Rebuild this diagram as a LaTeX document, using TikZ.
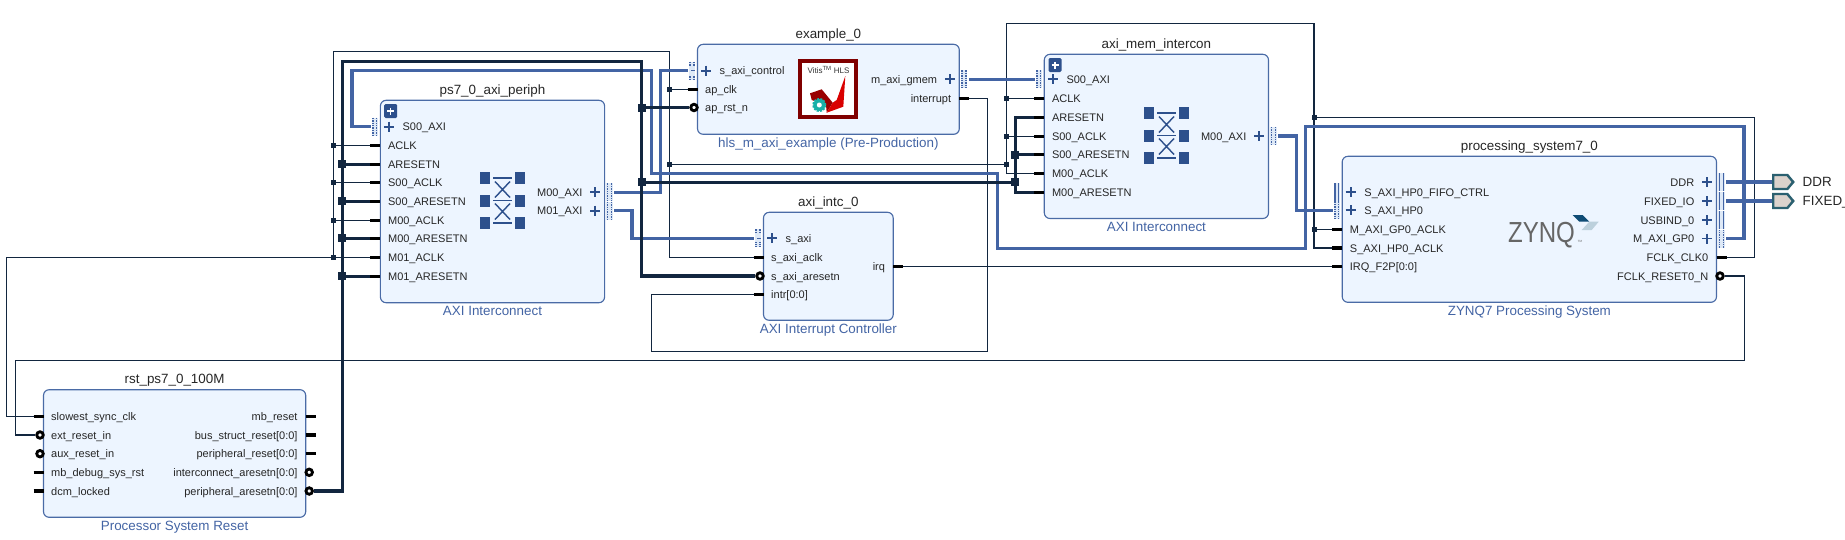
\documentclass[tikz,border=0pt]{standalone}
\usepackage{fontspec}
\setmainfont{Liberation Sans}
\usepackage{xcolor}
\definecolor{Wire}{RGB}{18,38,63}
\definecolor{Bus}{RGB}{67,100,164}
\definecolor{BlockFill}{RGB}{237,245,255}
\definecolor{BlockEdge}{RGB}{74,107,166}
\definecolor{BusBack}{RGB}{222,233,247}
\definecolor{Icon}{RGB}{45,80,140}
\definecolor{Port}{RGB}{43,96,112}
\definecolor{PortFill}{RGB}{219,210,204}
\definecolor{LogoRed}{RGB}{128,0,0}
\definecolor{Teal}{RGB}{25,176,168}
\definecolor{ChevronDark}{RGB}{15,76,117}
\definecolor{ChevronLight}{RGB}{188,208,220}
\usetikzlibrary{positioning, shapes.symbols}
\tikzset{
	block/.style={draw=BlockEdge, fill=BlockFill, line width=0.4mm, rounded corners=2mm, inner sep=0pt},
	blocktitle/.style={font=\fontsize{13.4}{15}\selectfont, text=black!85, inner sep=0pt, text height=9.5pt, text depth=0pt},
	blockname/.style={font=\fontsize{13.4}{15}\selectfont, text=Bus, inner sep=0pt, text height=9.5pt, text depth=0pt},
	pinlabel/.style={font=\fontsize{11}{13}\selectfont, text=black!85, inner sep=0pt, text height=8pt, text depth=0pt},
	pinstub/.style={draw=black, line width=1.2mm},
	ringpin/.style={circle, draw=black, fill=white, line width=1mm, inner sep=0pt, minimum size=6.5pt},
	plusline/.style={draw=Icon, line width=0.6mm},
	busdot/.style={draw=Bus, line width=0.5mm, dash pattern=on 1.4pt off 1pt},
	bussolid/.style={draw=Bus, line width=0.5mm},
	wirethin/.style={draw=Wire, line width=0.4mm},
	wirethick/.style={draw=Wire, line width=1.1mm},
	wirebus/.style={draw=Bus, line width=1.2mm},
	jthin/.style={fill=Wire, inner sep=0pt, minimum size=5pt},
	jthick/.style={fill=Wire, inner sep=0pt, minimum size=8pt},
	extport/.style={signal, signal to=east, draw=Port, fill=PortFill, line width=0.85mm, inner sep=0pt, minimum width=20pt, minimum height=14pt, signal pointer angle=100}
}
\newcommand{\pinin}[4]{
	\coordinate (#1) at (#2-10,#3);
	\draw[pinstub] (#1) -- (#2,#3);
	\node[pinlabel, anchor=west] (#1t) at (#2+7.5,#3) {#4};
}
\newcommand{\pinout}[4]{
	\coordinate (#1) at (#2+10,#3);
	\draw[pinstub] (#2,#3) -- (#1);
	\node[pinlabel, anchor=east] (#1t) at (#2-8,#3) {#4};
}
\newcommand{\ringin}[4]{
	\node[ringpin] (#1) at (#2-3.5,#3) {};
	\node[pinlabel, anchor=west] (#1t) at (#2+7.5,#3) {#4};
}
\newcommand{\ringout}[4]{
	\node[ringpin] (#1) at (#2+3.5,#3) {};
	\node[pinlabel, anchor=east] (#1t) at (#2-8,#3) {#4};
}
\newcommand{\busin}[5]{
	\coordinate (#1) at (#2-9.5,#3);
	\fill[BusBack] (#2-8.5,#3-9) rectangle (#2-2.5,#3+9);
	\draw[#5] (#2-7.3,#3-9) -- (#2-7.3,#3+9);
	\draw[#5] (#2-3.7,#3-9) -- (#2-3.7,#3+9);
	\draw[plusline] (#2+3.5,#3) -- (#2+13.5,#3);
	\draw[plusline] (#2+8.5,#3-5) -- (#2+8.5,#3+5);
	\node[pinlabel, anchor=west] (#1t) at (#2+22,#3) {#4};
}
\newcommand{\busout}[5]{
	\coordinate (#1) at (#2+9.5,#3);
	\fill[BusBack] (#2+1.5,#3-9) rectangle (#2+8,#3+9);
	\draw[#5] (#2+2.7,#3-9) -- (#2+2.7,#3+9);
	\draw[#5] (#2+6.8,#3-9) -- (#2+6.8,#3+9);
	\draw[plusline] (#2-14.5,#3) -- (#2-4.5,#3);
	\draw[plusline] (#2-9.5,#3-5) -- (#2-9.5,#3+5);
	\node[pinlabel, anchor=east] (#1t) at (#2-22,#3) {#4};
}
\newcommand{\busgap}[2]{
	\fill[BusBack] (#1-8.5,#2-4) rectangle (#1-2.5,#2+4);
	\draw[Bus, line width=0.5mm] (#1-6.5,#2) -- (#1-2.5,#2);
}
\newcommand{\crossbar}[3]{
	\foreach \xx in {#1,#2}
		\foreach \yy in {-22.5,0,22.5}
			\fill[Icon] (\xx-5,#3+\yy-6) rectangle (\xx+5,#3+\yy+6);
	\foreach \yy in {-22.5,0,22.5}
		\draw[Icon, line width=0.4mm] (#1+8,#3+\yy) -- (#2-8,#3+\yy);
	\draw[Icon, line width=0.5mm] (#1+10,#3-19) -- (#2-10,#3-3) (#1+10,#3-3) -- (#2-10,#3-19);
	\draw[Icon, line width=0.5mm] (#1+10,#3+3) -- (#2-10,#3+19) (#1+10,#3+19) -- (#2-10,#3+3);
}
\newcommand{\expand}[2]{
	\fill[Icon, rounded corners=0.5mm] (#1-6.5,#2-7) rectangle (#1+6.5,#2+7);
	\draw[white, line width=0.55mm] (#1-3.5,#2) -- (#1+3.5,#2) (#1,#2-3.5) -- (#1,#2+3.5);
}

\begin{document}
\begin{tikzpicture}[x=1pt, y=-1pt]

	\useasboundingbox (0,0) rectangle (1845,539);
	\clip (0,0) rectangle (1845,539);

	% Blocks
	\node[block, minimum width=224.2pt, minimum height=202.4pt] (ps7) at (492.5,201.5) {};
	\node[block, minimum width=261.8pt, minimum height=90pt] (example) at (828.4,89.3) {};
	\node[block, minimum width=224.2pt, minimum height=164.2pt] (mem) at (1156.4,136.4) {};
	\node[block, minimum width=129.7pt, minimum height=108pt] (intc) at (828.35,266.3) {};
	\node[block, minimum width=374.3pt, minimum height=146pt] (zynq) at (1529.35,229.3) {};
	\node[block, minimum width=262.2pt, minimum height=127.6pt] (rst) at (174.6,453.5) {};

	% Titles
	\node[blocktitle, above=5pt of ps7] (ps7title) {ps7\_0\_axi\_periph};
	\node[blocktitle, above=5pt of example] (exampletitle) {example\_0};
	\node[blocktitle, above=5pt of mem] (memtitle) {axi\_mem\_intercon};
	\node[blocktitle, above=5pt of intc] (intctitle) {axi\_intc\_0};
	\node[blocktitle, above=5pt of zynq] (zynqtitle) {processing\_system7\_0};
	\node[blocktitle, above=5pt of rst] (rsttitle) {rst\_ps7\_0\_100M};

	\node[blockname, below=3pt of ps7] (ps7name) {AXI Interconnect};
	\node[blockname, below=3pt of example] (examplename) {hls\_m\_axi\_example (Pre-Production)};
	\node[blockname, below=3pt of mem] (memname) {AXI Interconnect};
	\node[blockname, below=3pt of intc] (intcname) {AXI Interrupt Controller};
	\node[blockname, below=3pt of zynq] (zynqname) {ZYNQ7 Processing System};
	\node[blockname, below=3pt of rst] (rstname) {Processor System Reset};

	% Pins ps7_0_axi_periph
	\expand{390.7}{111}
	\busin{ps7saxi}{380.4}{126.7}{S00\_AXI}{busdot}
	\pinin{ps7aclk}{380.4}{145.3}{ACLK}
	\pinin{ps7arst}{380.4}{164.3}{ARESETN}
	\pinin{ps7sclk}{380.4}{182.3}{S00\_ACLK}
	\pinin{ps7srst}{380.4}{201.3}{S00\_ARESETN}
	\pinin{ps7mclk}{380.4}{220.3}{M00\_ACLK}
	\pinin{ps7mrst}{380.4}{238.3}{M00\_ARESETN}
	\pinin{ps7nclk}{380.4}{257.3}{M01\_ACLK}
	\pinin{ps7nrst}{380.4}{276.3}{M01\_ARESETN}
	\busout{ps7maxi}{604.6}{192.3}{M00\_AXI}{busdot}
	\busout{ps7naxi}{604.6}{210.7}{M01\_AXI}{busdot}
	\crossbar{485}{520}{200.5}

	% Pins example_0
	\busin{exctrl}{697.5}{70.7}{s\_axi\_control}{busdot}
	\busgap{697.5}{70.7}
	\pinin{exclk}{697.5}{89.3}{ap\_clk}
	\ringin{exrst}{697.5}{107.5}{ap\_rst\_n}
	\busout{exgmem}{959.3}{79.3}{m\_axi\_gmem}{busdot}
	\pinout{exint}{959.3}{98.3}{interrupt}

	% Pins axi_mem_intercon
	\expand{1055}{65}
	\busin{memsaxi}{1044.3}{79.3}{S00\_AXI}{busdot}
	\pinin{memaclk}{1044.3}{98.3}{ACLK}
	\pinin{memarst}{1044.3}{117.3}{ARESETN}
	\pinin{memsclk}{1044.3}{136.3}{S00\_ACLK}
	\pinin{memsrst}{1044.3}{154.5}{S00\_ARESETN}
	\pinin{memmclk}{1044.3}{173.3}{M00\_ACLK}
	\pinin{memmrst}{1044.3}{192.3}{M00\_ARESETN}
	\busout{memmaxi}{1268.5}{136}{M00\_AXI}{busdot}
	\crossbar{1149}{1184}{135.5}

	% Pins axi_intc_0
	\busin{intcaxi}{763.5}{238.3}{s\_axi}{busdot}
	\busgap{763.5}{238.3}
	\pinin{intcclk}{763.5}{257.3}{s\_axi\_aclk}
	\ringin{intcrst}{763.5}{276}{s\_axi\_aresetn}
	\pinin{intcintr}{763.5}{294.3}{intr[0:0]}
	\pinout{intcirq}{893.2}{266.3}{irq}

	% Pins processing_system7_0
	\busin{zynqfifo}{1342.2}{192}{S\_AXI\_HP0\_FIFO\_CTRL}{bussolid}
	\busin{zynqhp}{1342.2}{210.3}{S\_AXI\_HP0}{busdot}
	\pinin{zynqgpclk}{1342.2}{229.3}{M\_AXI\_GP0\_ACLK}
	\pinin{zynqhpclk}{1342.2}{248}{S\_AXI\_HP0\_ACLK}
	\pinin{zynqirq}{1342.2}{266.3}{IRQ\_F2P[0:0]}
	\busout{zynqddr}{1716.5}{182}{DDR}{bussolid}
	\busout{zynqfio}{1716.5}{201}{FIXED\_IO}{bussolid}
	\busout{zynqusb}{1716.5}{220}{USBIND\_0}{bussolid}
	\busout{zynqgp}{1716.5}{238.5}{M\_AXI\_GP0}{busdot}
	\pinout{zynqclk}{1716.5}{257.3}{FCLK\_CLK0}
	\ringout{zynqrst}{1716.5}{276}{FCLK\_RESET0\_N}

	% Pins rst_ps7_0_100M
	\pinin{rstclk}{43.5}{416.3}{slowest\_sync\_clk}
	\ringin{rstext}{43.5}{435}{ext\_reset\_in}
	\ringin{rstaux}{43.5}{453.7}{aux\_reset\_in}
	\pinin{rstdbg}{43.5}{472.3}{mb\_debug\_sys\_rst}
	\pinin{rstdcm}{43.5}{491}{dcm\_locked}
	\pinout{rstmb}{305.7}{416.3}{mb\_reset}
	\pinout{rstbus}{305.7}{435}{bus\_struct\_reset[0:0]}
	\pinout{rstper}{305.7}{453.7}{peripheral\_reset[0:0]}
	\ringout{rstint}{305.7}{472.3}{interconnect\_aresetn[0:0]}
	\ringout{rstpar}{305.7}{491}{peripheral\_aresetn[0:0]}

	% Logos
	\draw[draw=LogoRed, fill=white, line width=1.1mm] (800,61) rectangle (856,117);
	\node[font=\fontsize{8}{9}\selectfont, text=black!80, inner sep=0pt] (hlstext) at (828.5,70) {Vitis\textsuperscript{TM} HLS};
	\fill[red!60!black] (810,93.3) -- (821.7,89.3) -- (832.7,102.7) -- (826.7,112.7) -- (826,105) -- (811.7,100) -- cycle;
	\fill[red!85!black] (845.3,76) -- (843.3,106.7) -- (826.7,112.7) -- (832.7,102.7) -- (836.7,100) -- cycle;
	\draw[Teal, line width=0.7mm, dash pattern=on 2pt off 1.2pt, fill=Teal] (819.3,105) circle (6pt);
	\fill[white] (819.3,105) circle (2.5pt);

	\node[font=\fontsize{29}{29}\selectfont, text=black!60, xscale=0.83, inner sep=0pt, text height=21pt, text depth=0pt] (zynqlogo) at (1541.5,232) {ZYNQ};
	\node[font=\fontsize{3}{3}\selectfont, text=black!60, inner sep=0pt] (zynqtm) at (1580,241) {TM};
	\fill[ChevronDark] (1572.7,215) -- (1582.7,215) -- (1589.3,221.7) -- (1579.3,221.7) -- cycle;
	\fill[ChevronLight] (1589.3,221.7) -- (1598.7,221.7) -- (1591.7,230) -- (1581.7,230) -- cycle;

	% External ports
	\node[extport, anchor=west] (ddr) at (1772,182) {};
	\node[extport, anchor=west] (fixedio) at (1772,201) {};
	\node[blocktitle, anchor=west] (ddrt) at (1802.5,182) {DDR};
	\node[blocktitle, anchor=west] (fixediot) at (1802.5,201) {FIXED\_IO};

	% Junctions
	\foreach \name/\yy in {ja/145.3,jb/182.3,jc/220.3,jd/257.3}
		\node[jthin] (\name) at (333.3,\yy) {};
	\node[jthin] (je) at (669.4,89.3) {};
	\node[jthin] (jf) at (669.4,164.3) {};
	\node[jthin] (jg) at (1006.3,98.3) {};
	\node[jthin] (jh) at (1006.3,136.3) {};
	\node[jthin] (ji) at (1006.3,164.3) {};
	\node[jthin] (jj) at (1314,117.3) {};
	\node[jthin] (jk) at (1314,229.3) {};
	\foreach \name/\yy in {jm/164.3,jn/201.3,jo/238.3,jp/276.3}
		\node[jthick] (\name) at (342.4,\yy) {};
	\node[jthick] (jq) at (641.7,107.5) {};
	\node[jthick] (jr) at (641.7,182.3) {};
	\node[jthick] (js) at (1015.4,154.5) {};
	\node[jthick] (jt) at (1015.4,182.3) {};

	% Corners
	\coordinate (clka) at (333.3,51.3);
	\coordinate (clkb) at (669.4,51.3);
	\coordinate (clkc) at (1006.3,23.3);
	\coordinate (clkd) at (1314,23.3);
	\coordinate (clke) at (1754.3,117.3);
	\coordinate (clkw) at (6.3,257.3);
	\coordinate (resa) at (1744.2,360.3);
	\coordinate (resb) at (15.4,360.3);
	\coordinate (inta) at (987.7,351.3);
	\coordinate (intb) at (651.2,351.3);
	\coordinate (arsa) at (342.4,61.3);
	\coordinate (arsb) at (641.7,61.3);
	\coordinate (arsc) at (1015.4,117.3);
	\coordinate (arsd) at (1015.4,192.3);
	\coordinate (busa) at (660.7,70.7);
	\coordinate (busb) at (632,238.3);
	\coordinate (busc) at (1296.7,210.3);
	\coordinate (busd) at (352,70.7);
	\coordinate (buse) at (651.2,173.3);
	\coordinate (busf) at (997.6,248.3);
	\coordinate (busg) at (1305.6,126.7);
	\coordinate (bush) at (1744,238.5);

	% Clock
	\draw[wirethin] (intcclk) -| (clkb) -- (clka) -- (jd.center);
	\draw[wirethin] (rstclk) -| (clkw) -- (jd.center);
	\draw[wirethin] (ja.center) -- (ps7aclk);
	\draw[wirethin] (jb.center) -- (ps7sclk);
	\draw[wirethin] (jc.center) -- (ps7mclk);
	\draw[wirethin] (jd.center) -- (ps7nclk);
	\draw[wirethin] (je.center) -- (exclk);
	\draw[wirethin] (jf.center) -- (ji.center);
	\draw[wirethin] (memmclk) -| (clkc) -- (clkd) |- (zynqhpclk);
	\draw[wirethin] (jg.center) -- (memaclk);
	\draw[wirethin] (jh.center) -- (memsclk);
	\draw[wirethin] (jk.center) -- (zynqgpclk);
	\draw[wirethin] (zynqclk) -| (clke) -- (jj.center);

	% Other thin nets
	\draw[wirethin] (zynqrst) -| (resa) -- (resb) |- (rstext);
	\draw[wirethin] (intcirq) -- (zynqirq);
	\draw[wirethin] (exint) -| (inta) -- (intb) |- (intcintr);

	% Buses
	\draw[wirebus] (ps7saxi) -| (busd) -| (buse) -| (busf) -| (busg) -| (bush) -- (zynqgp);
	\draw[wirebus] (ps7maxi) -| (busa) -- (exctrl);
	\draw[wirebus] (ps7naxi) -| (busb) -- (intcaxi);
	\draw[wirebus] (exgmem) -- (memsaxi);
	\draw[wirebus] (memmaxi) -| (busc) -- (zynqhp);
	\draw[wirebus] (zynqddr) -- (ddr);
	\draw[wirebus] (zynqfio) -- (fixedio);

	% Reset
	\draw[wirethick] (rstpar) -| (arsa) -- (arsb) |- (intcrst);
	\draw[wirethick] (jm.center) -- (ps7arst);
	\draw[wirethick] (jn.center) -- (ps7srst);
	\draw[wirethick] (jo.center) -- (ps7mrst);
	\draw[wirethick] (jp.center) -- (ps7nrst);
	\draw[wirethick] (jq.center) -- (exrst);
	\draw[wirethick] (jr.center) -- (jt.center);
	\draw[wirethick] (memarst) -- (arsc) -- (arsd) -- (memmrst);
	\draw[wirethick] (js.center) -- (memsrst);

\end{tikzpicture}
\end{document}
